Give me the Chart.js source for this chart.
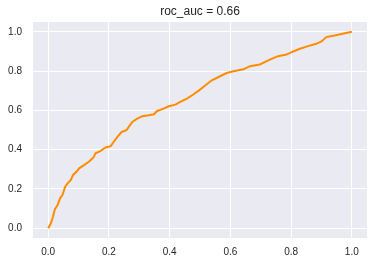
<!DOCTYPE html>
<html>
<head>
<meta charset="utf-8">
<script src="https://cdn.jsdelivr.net/npm/chart.js@4/dist/chart.umd.min.js"></script>
<style>
  html, body { margin: 0; padding: 0; background: #ffffff; }
  canvas { display: block; }
</style>
</head>
<body>
<canvas id="myChart" width="374" height="265"></canvas>
<script>
var title = "roc_auc = 0.66";

// false positive rate / true positive rate
var fpr = [0, 0.009, 0.016, 0.022, 0.031, 0.039, 0.047, 0.056, 0.064, 0.074, 0.082, 0.093,
  0.102, 0.118, 0.134, 0.149, 0.156, 0.173, 0.189, 0.206, 0.216, 0.228, 0.242, 0.258,
  0.269, 0.277, 0.293, 0.310, 0.331, 0.348, 0.359, 0.380, 0.397, 0.419, 0.435, 0.457,
  0.479, 0.497, 0.517, 0.539, 0.561, 0.588, 0.610, 0.643, 0.665, 0.697, 0.730, 0.757,
  0.785, 0.807, 0.829, 0.856, 0.883, 0.900, 0.916, 0.943, 0.970, 1.0];
var tpr = [0, 0.025, 0.059, 0.096, 0.118, 0.152, 0.169, 0.211, 0.228, 0.245, 0.271, 0.287,
  0.305, 0.321, 0.338, 0.360, 0.381, 0.394, 0.411, 0.418, 0.440, 0.465, 0.490, 0.499,
  0.524, 0.541, 0.558, 0.570, 0.575, 0.580, 0.597, 0.609, 0.621, 0.629, 0.643, 0.660,
  0.682, 0.702, 0.727, 0.753, 0.770, 0.790, 0.799, 0.809, 0.825, 0.834, 0.858, 0.876,
  0.884, 0.900, 0.914, 0.927, 0.939, 0.951, 0.973, 0.981, 0.990, 1.0];

var xTicks = [0, 0.2, 0.4, 0.6, 0.8, 1.0];
var yTicks = [0, 0.2, 0.4, 0.6, 0.8, 1.0];

var points = fpr.map(function (x, i) {
  return { x: x, y: tpr[i] };
});

var textColor = "#262626";
var fontFamily = "'Liberation Sans', Arial, sans-serif";

// grey plot background + title, seaborn darkgrid style
var bgPlugin = {
  id: "bgPlugin",
  beforeDraw: function (chart) {
    var ctx = chart.ctx;
    var a = chart.chartArea;
    ctx.save();
    ctx.fillStyle = "#eaeaf2";
    ctx.fillRect(a.left, a.top, a.right - a.left, a.bottom - a.top);
    ctx.fillStyle = textColor;
    ctx.font = "12px " + fontFamily;
    ctx.textAlign = "center";
    ctx.textBaseline = "middle";
    ctx.fillText(title, (a.left + a.right) / 2, 12);
    ctx.restore();
  },
};

var config = {
  type: "line",
  data: {
    datasets: [
      {
        data: points,
        borderColor: "#ff8c00",
        backgroundColor: "#ff8c00",
        borderWidth: 2,
        pointRadius: 0,
        tension: 0,
        fill: false,
      },
    ],
  },
  options: {
    responsive: false,
    animation: false,
    layout: { padding: { top: 22, right: 7, left: 0, bottom: 0 } },
    plugins: {
      legend: { display: false },
      tooltip: { enabled: false },
    },
    scales: {
      x: {
        type: "linear",
        min: -0.05,
        max: 1.05,
        afterBuildTicks: function (axis) {
          axis.ticks = xTicks.map(function (v) { return { value: v }; });
        },
        afterFit: function (axis) { axis.height = 27; },
        border: { display: false },
        grid: { color: "#ffffff", lineWidth: 1, drawTicks: false },
        ticks: {
          padding: 8,
          color: textColor,
          font: { family: fontFamily, size: 10 },
          callback: function (v) { return v.toFixed(1); },
        },
      },
      y: {
        type: "linear",
        min: -0.05,
        max: 1.05,
        afterBuildTicks: function (axis) {
          axis.ticks = yTicks.map(function (v) { return { value: v }; });
        },
        afterFit: function (axis) { axis.width = 33; },
        border: { display: false },
        grid: { color: "#ffffff", lineWidth: 1, drawTicks: false },
        ticks: {
          padding: 11,
          color: textColor,
          font: { family: fontFamily, size: 10 },
          callback: function (v) { return v.toFixed(1); },
        },
      },
    },
  },
  plugins: [bgPlugin],
};

var myChart = new Chart(document.getElementById("myChart"), config);
</script>
</body>
</html>
